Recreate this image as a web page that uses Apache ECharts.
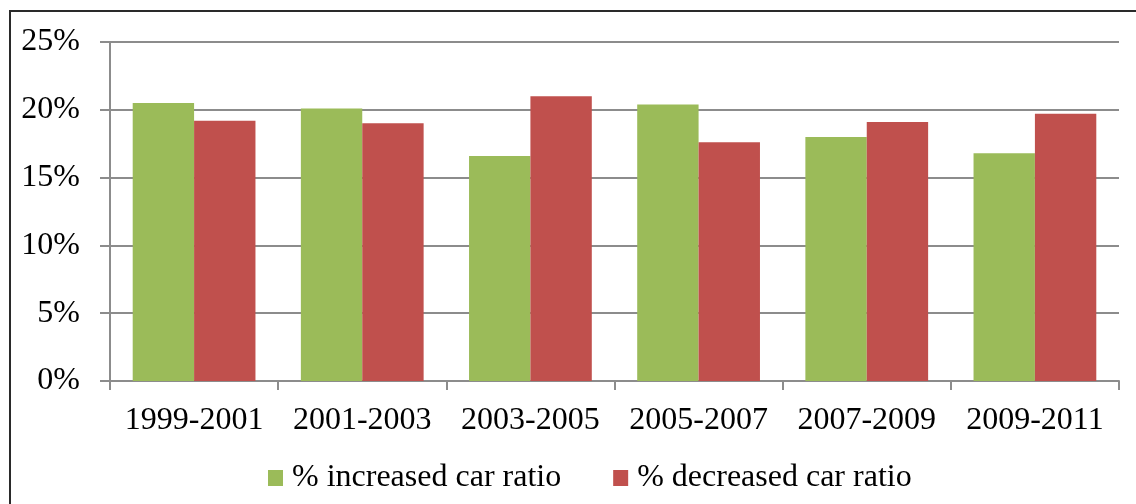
<!DOCTYPE html>
<html>
<head>
<meta charset="utf-8">
<script src="https://cdn.jsdelivr.net/npm/echarts@6/dist/echarts.min.js"></script>
<style>
  html, body { margin: 0; padding: 0; background: #fff; }
  #wrap { position: relative; width: 1136px; height: 504px; overflow: hidden; }
  #frame { position: absolute; left: 9px; top: 10px; width: 1200px; height: 600px; border: 2px solid #2a2a2a; }
  #chart { position: absolute; left: 0; top: 0; width: 1136px; height: 504px; }
</style>
</head>
<body>
<div id="wrap">
  <div id="frame"></div>
  <div id="chart"></div>
</div>
<script>
// periods on the x axis
const periods = ['1999-2001', '2001-2003', '2003-2005', '2005-2007', '2007-2009', '2009-2011'];
// percentages
const increased = [20.5, 20.1, 16.6, 20.4, 18.0, 16.8];
const decreased = [19.2, 19.0, 21.0, 17.6, 19.1, 19.7];
const seriesNames = ['% increased car ratio', '% decreased car ratio'];

const font = '"Liberation Serif", "Times New Roman", serif';
const chart = echarts.init(document.getElementById('chart'));

const option = {
  animation: false,
  backgroundColor: 'transparent',
  grid: { left: 110, right: 17, top: 42, bottom: 123 },
  legend: {
    left: 268,
    top: 462,
    padding: 0,
    itemWidth: 15,
    itemHeight: 16,
    itemGap: 52,
    icon: 'rect',
    textStyle: { fontFamily: font, fontSize: 32, color: '#000', padding: [0, 0, 0, 4] },
    data: seriesNames
  },
  xAxis: {
    type: 'category',
    data: periods,
    axisLine: { lineStyle: { color: '#8c8c8c', width: 2 } },
    axisTick: { show: true, length: 9, lineStyle: { color: '#8c8c8c', width: 2 } },
    axisLabel: { interval: 0, fontFamily: font, fontSize: 32, color: '#000', margin: 24 }
  },
  yAxis: {
    type: 'value',
    min: 0,
    max: 25,
    interval: 5,
    axisLine: { show: true, lineStyle: { color: '#8c8c8c', width: 2 } },
    axisTick: { show: true, length: 10, lineStyle: { color: '#8c8c8c', width: 2 } },
    splitLine: { lineStyle: { color: '#8c8c8c', width: 2 } },
    axisLabel: {
      fontFamily: font, fontSize: 32, color: '#000', margin: 30,
      formatter: function (v) { return v + '%'; }
    }
  },
  series: [
    {
      name: seriesNames[0],
      type: 'bar',
      data: increased,
      itemStyle: { color: '#9BBB59' },
      barGap: '0%',
      barCategoryGap: '27%'
    },
    {
      name: seriesNames[1],
      type: 'bar',
      data: decreased,
      itemStyle: { color: '#C0504D' },
      barGap: '0%',
      barCategoryGap: '27%'
    }
  ]
};

chart.setOption(option);
</script>
</body>
</html>
